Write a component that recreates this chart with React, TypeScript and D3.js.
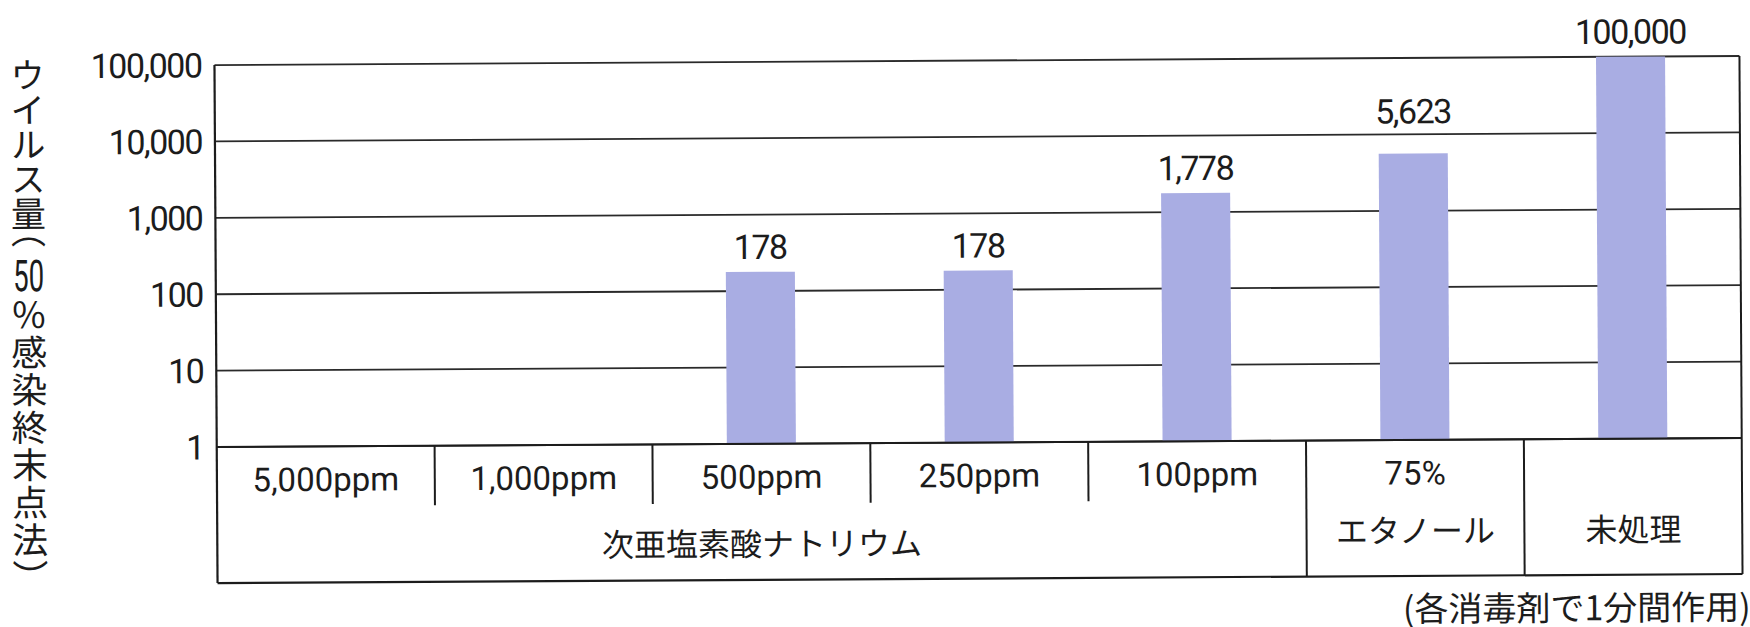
import React from 'react';
import * as d3 from 'd3';

// Disinfectant / concentration per column (the last column is the untreated control)
const concentrations = ['5,000ppm', '1,000ppm', '500ppm', '250ppm', '100ppm', '75%', ''];
// Virus titre (TCID50) after 1 minute; null = below detection, no bar
const titers: (number | null)[] = [null, null, 178, 178, 1778, 5623, 100000];
// Agent groups and the columns they cover
const agentNames = ['次亜塩素酸ナトリウム', 'エタノール', '未処理'];
const agentFirstCol = [0, 5, 6];
const agentLastCol = [4, 5, 6];
// Log-axis ticks
const tickValues = [1, 10, 100, 1000, 10000, 100000];
// Vertical axis title: vertical run, upright number, vertical run
const axisTitleHead = 'ウイルス量（';
const axisTitleNumber = '50';
const axisTitleTail = '％感染終末点法）';
const footnote = '(各消毒剤で1分間作用)';

const W = 1750;
const H = 627;
const L = { left: 216, right: 1741, top: 60.5, base: 442.5, split: 502, bottom: 578.5, line2: 533 };
const TILT = -0.34;

const LATIN = 'Roboto, "Noto Sans CJK JP", sans-serif';
const CJK = '"Noto Sans CJK JP", sans-serif';
const INK = '#1c1c1c';
const BAR = '#a9ade3';

export default function App() {
  const cols = d3.range(concentrations.length);
  const x = d3.scaleBand<number>().domain(cols).range([L.left, L.right]);
  const y = d3.scaleLog().domain([1, 100000]).range([L.base, L.top]);
  const bw = x.bandwidth();
  const barW = bw * 0.317;
  const fmt = d3.format(',');
  const gridYs = tickValues.map((v) => y(v));

  const groupOf = (c: number) => agentFirstCol.findIndex((f, i) => c >= f && c <= agentLastCol[i]);

  // value label sits just above its bar, lifted above a gridline it would cross
  const labelBaseline = (v: number) => {
    let b = y(v) - 13;
    const hit = gridYs.find((g) => g > b - 26 && g < b + 4);
    if (hit !== undefined) b = hit - 11;
    return b;
  };

  const TX = 29;
  const vertical: React.CSSProperties = {
    writingMode: 'vertical-rl',
    fontFeatureSettings: '"vhal" 1',
  };

  const dividers = cols.slice(1).map((c) => ({
    x: x(c)!,
    full: groupOf(c) !== groupOf(c - 1),
  }));

  return (
    <svg
      width={W}
      height={H}
      viewBox={`0 0 ${W} ${H}`}
      style={{ position: 'absolute', left: 0, top: 0, display: 'block', background: '#fff' }}
    >
      <g transform={`rotate(${TILT}, 980, 320)`}>
        {/* gridlines */}
        {gridYs.map((gy, i) => (
          <line key={`g${i}`} x1={L.left} x2={L.right} y1={gy} y2={gy} stroke="#2a2a2a" strokeWidth={1.8} />
        ))}

        {/* bars */}
        {titers.map((v, i) =>
          v == null ? null : (
            <rect
              key={`b${i}`}
              x={x(i)! + (bw - barW) / 2}
              y={y(v)}
              width={barW}
              height={L.base - y(v)}
              fill={BAR}
            />
          )
        )}

        {/* frame and category table */}
        <line x1={L.left} x2={L.right} y1={L.base} y2={L.base} stroke={INK} strokeWidth={2} />
        <line x1={L.left} x2={L.left} y1={L.top} y2={L.bottom} stroke={INK} strokeWidth={2.2} />
        <line x1={L.right} x2={L.right} y1={L.top} y2={L.bottom} stroke={INK} strokeWidth={2} />
        <line x1={L.left} x2={L.right} y1={L.bottom} y2={L.bottom} stroke={INK} strokeWidth={2.2} />
        {dividers.map((d, i) => (
          <line key={`d${i}`} x1={d.x} x2={d.x} y1={L.base} y2={d.full ? L.bottom : L.split} stroke={INK} strokeWidth={2} />
        ))}

        {/* y tick labels */}
        {tickValues.map((v, i) => (
          <text
            key={`t${i}`}
            x={203}
            y={y(v)}
            dy="0.36em"
            textAnchor="end"
            fontFamily={LATIN}
            fontSize={34}
            letterSpacing={-1.5}
            fill={INK}
          >
            {fmt(v)}
          </text>
        ))}

        {/* value labels */}
        {titers.map((v, i) =>
          v == null ? null : (
            <text
              key={`v${i}`}
              x={x(i)! + bw / 2}
              y={labelBaseline(v)}
              textAnchor="middle"
              fontFamily={LATIN}
              fontSize={34}
              letterSpacing={-1.5}
              fill={INK}
            >
              {fmt(v)}
            </text>
          )
        )}

        {/* concentration row */}
        {concentrations.map((c, i) =>
          c ? (
            <text
              key={`c${i}`}
              x={x(i)! + bw / 2}
              y={487}
              textAnchor="middle"
              fontFamily={LATIN}
              fontSize={33}
              fill={INK}
            >
              {c}
            </text>
          ) : null
        )}

        {/* agent names */}
        {agentNames.map((n, i) => {
          const x0 = x(agentFirstCol[i])!;
          const x1 = x(agentLastCol[i])! + bw;
          const wide = agentLastCol[i] > agentFirstCol[i];
          const cy = wide ? (L.split + L.bottom) / 2 + 2 : L.line2;
          return (
            <text
              key={`a${i}`}
              x={(x0 + x1) / 2}
              y={cy}
              dy="0.38em"
              textAnchor="middle"
              fontFamily={CJK}
              fontSize={32}
              fill={INK}
            >
              {n}
            </text>
          );
        })}

        {/* vertical axis title */}
        <text x={TX} y={52} style={vertical} fontFamily={CJK} fontSize={35} letterSpacing={-0.4} fill={INK}>
          {axisTitleHead}
        </text>
        <text
          x={TX}
          y={270 + 0.355 * 44}
          textAnchor="middle"
          fontFamily={LATIN}
          fontSize={44}
          textLength={31}
          lengthAdjust="spacingAndGlyphs"
          fill={INK}
        >
          {axisTitleNumber}
        </text>
        <text x={TX} y={291} style={vertical} fontFamily={CJK} fontSize={36} letterSpacing={1.5} fill={INK}>
          {axisTitleTail}
        </text>

        {/* footnote */}
        <text x={1749} y={611} dy="0.38em" textAnchor="end" fontFamily={CJK} fontSize={34} fill={INK}>
          {footnote}
        </text>
      </g>
    </svg>
  );
}
